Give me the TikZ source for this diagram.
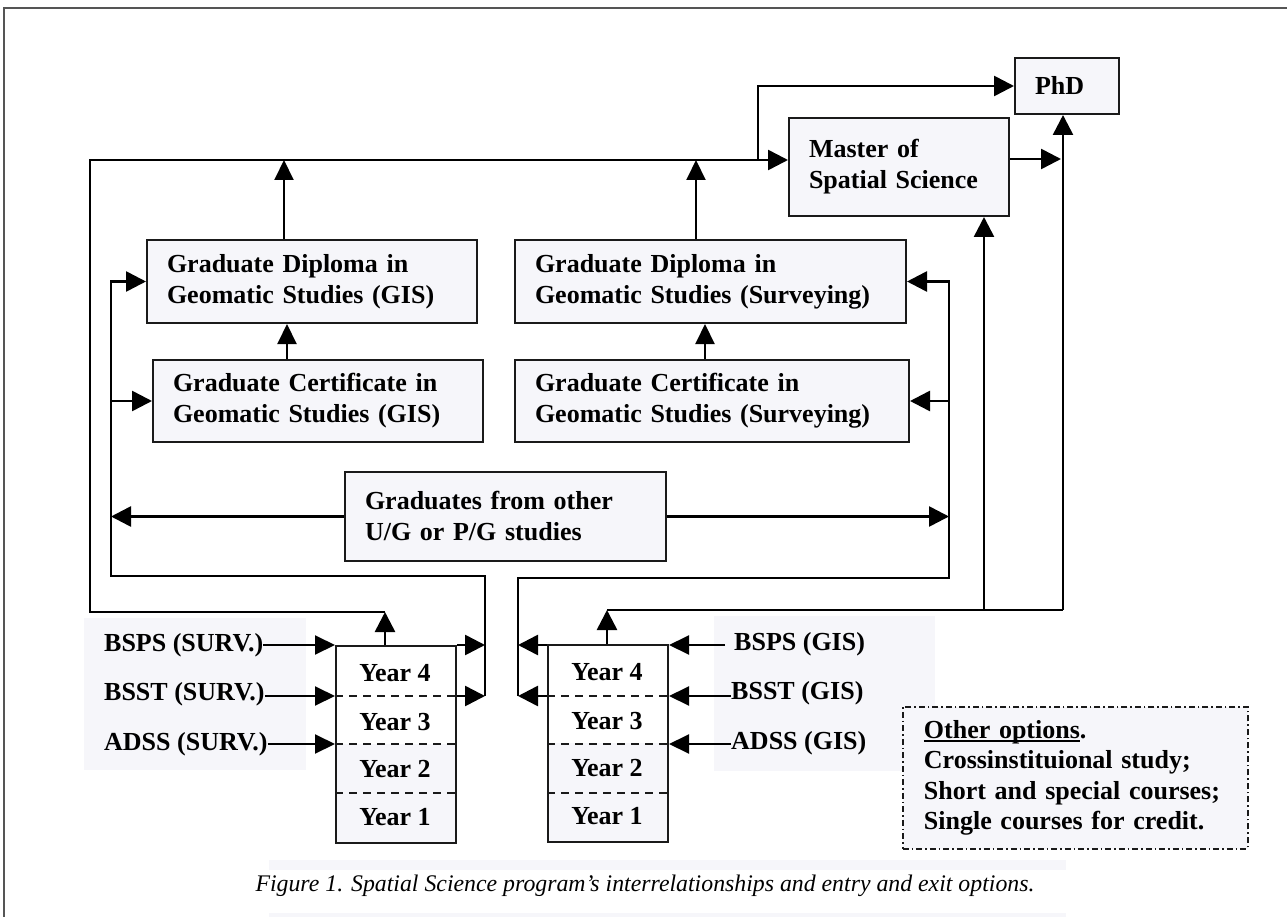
\documentclass[tikz,border=0pt]{standalone}
\usepackage{fontspec}
\setmainfont{Liberation Serif}
\usetikzlibrary{arrows.meta}
\definecolor{lav}{HTML}{F6F6FA}
\definecolor{bord}{HTML}{1A1A1A}
\definecolor{frame}{HTML}{555555}
\newcommand{\ulinetext}[1]{{\setbox0\hbox{#1}\rlap{\rule[-3.5pt]{\wd0}{1.6pt}}\box0}}
\begin{document}
\begin{tikzpicture}[x=1pt,y=-1pt,
  box/.style={draw=bord,line width=2pt,fill=lav,anchor=north west,inner xsep=20pt,inner ysep=0pt,align=left,font=\bfseries\fontsize{26}{31}\selectfont},
  yearbox/.style={draw=bord,line width=2pt,anchor=north west,minimum width=120pt,minimum height=197pt,inner sep=0pt},
  conn/.style={draw=black,line width=2.6pt,-{Triangle[length=20pt,width=20pt]}},
  thinconn/.style={draw=black,line width=2pt,-{Triangle[length=20pt,width=19pt]}},
  wire/.style={draw=black,line width=2.6pt},
  lbl/.style={inner sep=0pt,font=\bfseries\fontsize{26}{31}\selectfont},
  divider/.style={draw=bord,line width=2.2pt,dash pattern=on 8pt off 6pt},
  ]
\useasboundingbox (0,0) rectangle (1287,917);
\fill[white] (0,0) rectangle (1287,917);
% outer frame (top and left)
\draw[frame,line width=1.5pt] (1287,8) -- (4,8) -- (4,917);

% label backgrounds
\fill[lav] (84,618) rectangle (306,770);
\fill[lav] (714,616) rectangle (935,771);
% caption bands
\fill[lav] (269,860) rectangle (1066,870);
\fill[lav] (269,913) rectangle (1066,917);

% boxes
\node[box,minimum width=104pt,minimum height=56pt,text width=64pt] (phd) at (1014,57) {PhD};
\node[box,minimum width=220pt,minimum height=98pt,text width=180pt] (mss) at (788,117) {Master of\\Spatial Science\par\vspace{12pt}};
\node[box,minimum width=330pt,minimum height=83pt,text width=290pt] (dipG) at (146,239) {Graduate Diploma in\\Geomatic Studies (GIS)};
\node[box,minimum width=391pt,minimum height=83pt,text width=351pt] (dipS) at (514,239) {Graduate Diploma in\\Geomatic Studies (Surveying)};
\node[box,minimum width=330pt,minimum height=82pt,text width=290pt] (certG) at (152,359) {Graduate Certificate in\\Geomatic Studies (GIS)};
\node[box,minimum width=394pt,minimum height=82pt,text width=354pt] (certS) at (514,359) {Graduate Certificate in\\Geomatic Studies (Surveying)};
\node[box,minimum width=321pt,minimum height=89pt,text width=281pt] (grad) at (344,471) {Graduates from other\\U/G or P/G studies};

% year boxes
\fill[white] (335,645) rectangle (455,842);
\fill[lav] (335,744) rectangle (455,842);
\fill[white] (547,644) rectangle (667,841);
\fill[lav] (547,743) rectangle (667,841);
\node[yearbox] (yl) at (335,645) {};
\node[yearbox] (yr) at (547,644) {};
\coordinate (r4) at (0,645);
\coordinate (r3) at (0,696);
\coordinate (r2) at (0,744);
\coordinate (r1) at (0,793);
\draw[divider] (yl.west |- r3) -- (yl.east |- r3);
\draw[divider] (yl.west |- r2) -- (yl.east |- r2);
\draw[divider] (yl.west |- r1) -- (yl.east |- r1);
\draw[divider] (yr.west |- r3) -- (yr.east |- r3);
\draw[divider] (yr.west |- r2) -- (yr.east |- r2);
\draw[divider] (yr.west |- r1) -- (yr.east |- r1);
\node[lbl] (yl4) at (395,673) {Year 4};
\node[lbl] (yl3) at (395,722) {Year 3};
\node[lbl] (yl2) at (395,769) {Year 2};
\node[lbl] (yl1) at (395,817) {Year 1};
\node[lbl] (yr4) at (607,672) {Year 4};
\node[lbl] (yr3) at (607,721) {Year 3};
\node[lbl] (yr2) at (607,768) {Year 2};
\node[lbl] (yr1) at (607,816) {Year 1};

% entry labels
\node[lbl,anchor=west] (bspsS) at (104,645) {BSPS (SURV.)};
\node[lbl,anchor=west] (bsstS) at (104,694) {BSST (SURV.)};
\node[lbl,anchor=west] (adssS) at (104,744) {ADSS (SURV.)};
\node[lbl,anchor=west] (bspsG) at (734,644) {BSPS (GIS)};
\node[lbl,anchor=west] (bsstG) at (731,693) {BSST (GIS)};
\node[lbl,anchor=west] (adssG) at (731,743) {ADSS (GIS)};
\draw[thinconn] (bspsS.east) -- (yl.west |- r4);
\draw[thinconn] (bsstS.east |- r3) -- (yl.west |- r3);
\draw[thinconn] (adssS.east |- r2) -- (yl.west |- r2);
\draw[thinconn] ([xshift=-9pt]bspsG.west |- r4) -- (yr.east |- r4);
\draw[thinconn] (bsstG.west |- r3) -- (yr.east |- r3);
\draw[thinconn] (adssG.west |- r2) -- (yr.east |- r2);

% other options
\node[anchor=north west,draw=bord,line width=1.8pt,dash pattern=on 6pt off 3pt on 1.5pt off 3pt,fill=lav,
  minimum width=345pt,minimum height=142pt,inner xsep=21pt,inner ysep=0pt,text width=303pt,align=left,
  font=\bfseries\fontsize{26}{30.5}\selectfont] (oth) at (902,706)
  {\ulinetext{Other options}.\\Crossinstituional study;\\Short and special courses;\\Single courses for credit.};

% caption
\node[font=\itshape\fontsize{23.8}{28}\selectfont,inner sep=0pt] (cap) at (645,886)
  {Figure 1. Spatial Science program’s interrelationships and entry and exit options.};

% ---- connectors ----
\coordinate (tl) at (90,160);
\coordinate (jL) at (385,612);
\coordinate (jP) at (758,160);
\coordinate (aG) at (284,160);
\coordinate (aS) at (696,160);
\coordinate (cG) at (287,340);
\coordinate (cS) at (705,340);
\coordinate (mR) at (1061,159);
\coordinate (vP) at (1063,610);
\coordinate (jR) at (607,610);
\coordinate (mB) at (984,610);
\coordinate (vL) at (485,576);
\coordinate (xL) at (111,576);
\coordinate (vR) at (518,578);
\coordinate (xR) at (949,578);

% outer loop to Master and PhD
\draw[conn] (yl.north -| jL) -- (jL);
\draw[conn] (jL) -| (tl) -- (mss.west |- tl);
\draw[conn] (jP) |- (phd.west);
\draw[thinconn] (dipG.north -| aG) -- (aG);
\draw[thinconn] (dipS.north -| aS) -- (aS);
\draw[thinconn] (certG.north -| cG) -- (dipG.south -| cG);
\draw[thinconn] (certS.north -| cS) -- (dipS.south -| cS);
\draw[conn] (mss.east |- mR) -- (mR);
\draw[conn] (yr.north -| jR) -- (jR);
\draw[wire] (jR) -- (vP);
\draw[conn] (vP) -- (phd.south -| vP);
\draw[conn] (mB) -- (mss.south -| mB);

% left inner loop
\draw[conn] (yl.east |- r4) -- (vL |- r4);
\draw[conn] (yl.east |- r3) -- (vL |- r3);
\draw[conn] (vL |- r3) -- (vL) -- (xL) |- (dipG.west);
\draw[conn] (xL |- certG.west) -- (certG.west);
\draw[conn] (grad.west) -- (xL |- grad.west);

% right inner loop
\draw[conn] (yr.west |- r4) -- (vR |- r4);
\draw[conn] (yr.west |- r3) -- (vR |- r3);
\draw[conn] (vR |- r3) -- (vR) -- (xR) |- (dipS.east);
\draw[conn] (xR |- certS.east) -- (certS.east);
\draw[conn] (grad.east) -- (xR |- grad.east);
\end{tikzpicture}
\end{document}
